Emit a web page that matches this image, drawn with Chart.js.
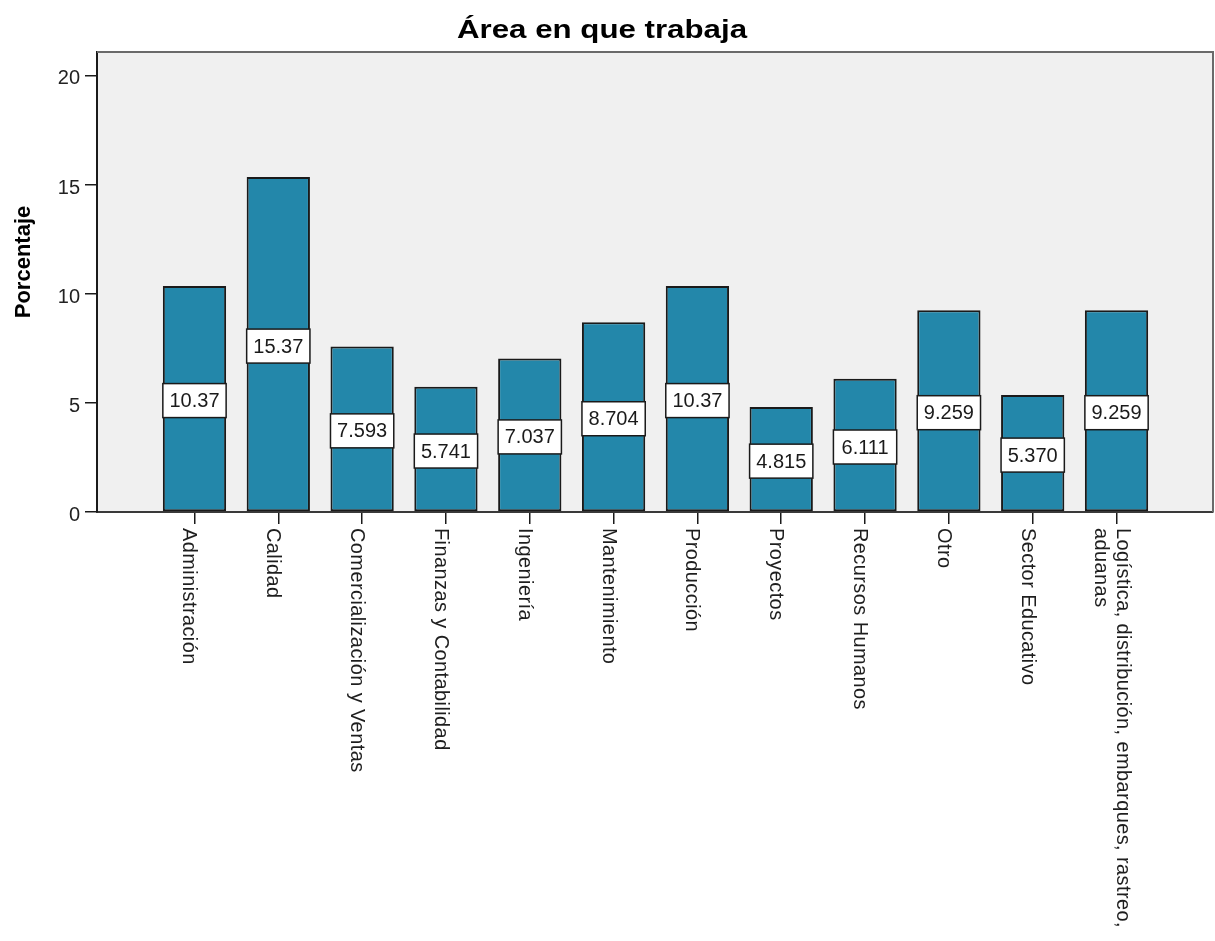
<!DOCTYPE html>
<html lang="es">
<head>
    <meta charset="UTF-8">
    <title>Área en que trabaja</title>
    <script src="https://cdn.jsdelivr.net/npm/chart.js"></script>
    <style>
        body {
            margin: 0;
            padding: 0;
            background: #ffffff;
        }

        #chartBox {
            width: 1215px;
            height: 941px;
        }
    </style>
</head>
<body>
    <div id="chartBox">
        <canvas id="areaChart"></canvas>
    </div>

    <script>
        const titleText = 'Área en que trabaja';
        const yAxisTitle = 'Porcentaje';

        const categories = [
            'Administración',
            'Calidad',
            'Comercialización y Ventas',
            'Finanzas y Contabilidad',
            'Ingeniería',
            'Mantenimiento',
            'Producción',
            'Proyectos',
            'Recursos Humanos',
            'Otro',
            'Sector Educativo',
            ['Logística, distribución, embarques, rastreo,', 'aduanas']
        ];

        const percentages = [10.37, 15.37, 7.593, 5.741, 7.037, 8.704, 10.37, 4.815, 6.111, 9.259, 5.370, 9.259];

        const yTicks = [0, 5, 10, 15, 20];

        const fontName = '"Liberation Sans", Arial, sans-serif';

        // bars sit on a linear axis so the empty space left/right of them matches SPSS
        const barPoints = percentages.map((v, i) => ({ x: i + 1, y: v }));

        const spssLook = {
            id: 'spssLook',
            beforeDraw(chart) {
                const { ctx, chartArea: a } = chart;
                ctx.save();
                ctx.fillStyle = '#ffffff';
                ctx.fillRect(0, 0, chart.width, chart.height);
                ctx.fillStyle = '#f0f0f0';
                ctx.fillRect(a.left, a.top, a.right - a.left, a.bottom - a.top);
                ctx.restore();
            },
            afterDatasetsDraw(chart) {
                const { ctx } = chart;
                const bars = chart.getDatasetMeta(0).data;
                ctx.save();
                ctx.font = '20px ' + fontName;
                ctx.textAlign = 'center';
                ctx.textBaseline = 'middle';
                bars.forEach((bar, i) => {
                    const p = bar.getProps(['x', 'y', 'base', 'width'], true);
                    const mid = (p.y + p.base) / 2 + 2;
                    const h = 34;
                    ctx.fillStyle = '#ffffff';
                    ctx.fillRect(p.x - p.width / 2, mid - h / 2, p.width, h);
                    ctx.strokeStyle = '#1a1a1a';
                    ctx.lineWidth = 1.5;
                    ctx.strokeRect(p.x - p.width / 2, mid - h / 2, p.width, h);
                    ctx.fillStyle = '#1a1a1a';
                    ctx.fillText(percentages[i].toPrecision(4), p.x, mid + 1);
                });
                ctx.restore();
            },
            afterDraw(chart) {
                const { ctx, chartArea: a } = chart;
                const xScale = chart.scales.x;
                ctx.save();

                // top and right frame
                ctx.strokeStyle = '#6a6a6a';
                ctx.lineWidth = 2;
                ctx.beginPath();
                ctx.moveTo(a.left, a.top);
                ctx.lineTo(a.right, a.top);
                ctx.lineTo(a.right, a.bottom);
                ctx.stroke();

                // title (SPSS draws it wide)
                ctx.save();
                ctx.fillStyle = '#000000';
                ctx.font = 'bold 25px ' + fontName;
                ctx.textAlign = 'center';
                ctx.textBaseline = 'alphabetic';
                ctx.translate(602, 38);
                ctx.scale(1.25, 1);
                ctx.fillText(titleText, 0, 0);
                ctx.restore();

                // y axis title
                ctx.save();
                ctx.fillStyle = '#000000';
                ctx.translate(30, 262);
                ctx.rotate(-Math.PI / 2);
                ctx.font = 'bold 22px ' + fontName;
                ctx.textAlign = 'center';
                ctx.fillText(yAxisTitle, 0, 0);
                ctx.restore();

                // category labels, turned clockwise
                ctx.font = '20px ' + fontName;
                ctx.letterSpacing = '0.4px';
                ctx.fillStyle = '#1e1e1e';
                ctx.textAlign = 'left';
                categories.forEach((label, i) => {
                    const lines = Array.isArray(label) ? label : [label];
                    const px = xScale.getPixelForValue(i + 1);
                    lines.forEach((line, j) => {
                        const bx = px - 11 + (lines.length - 1) * 11 - j * 22;
                        ctx.save();
                        ctx.translate(bx, a.bottom + 16);
                        ctx.rotate(Math.PI / 2);
                        ctx.fillText(line, 0, 0);
                        ctx.restore();
                    });
                });
                ctx.restore();
            }
        };

        const ctx = document.getElementById('areaChart').getContext('2d');
        const areaChart = new Chart(ctx, {
            type: 'bar',
            data: {
                datasets: [{
                    label: 'Porcentaje',
                    data: barPoints,
                    backgroundColor: '#2387aa',
                    borderColor: '#1a1a1a',
                    borderWidth: 2,
                    borderSkipped: false,
                    barPercentage: 0.755,
                    categoryPercentage: 1
                }]
            },
            options: {
                responsive: true,
                maintainAspectRatio: false,
                animation: false,
                layout: {
                    padding: { top: 52, right: 2, left: 0, bottom: 0 }
                },
                plugins: {
                    legend: { display: false },
                    title: { display: false },
                    tooltip: { enabled: false }
                },
                scales: {
                    x: {
                        type: 'linear',
                        offset: false,
                        min: -0.163,
                        max: 13.151,
                        afterBuildTicks(scale) {
                            scale.ticks = categories.map((c, i) => ({ value: i + 1 }));
                        },
                        afterFit(scale) {
                            scale.height = 941 - 512;
                        },
                        ticks: {
                            autoSkip: false,
                            maxRotation: 0,
                            callback: () => ''
                        },
                        grid: {
                            offset: false,
                            drawOnChartArea: false,
                            drawTicks: true,
                            tickLength: 12,
                            color: '#1a1a1a',
                            lineWidth: 1.5
                        },
                        border: { color: '#3a3a3a', width: 2 }
                    },
                    y: {
                        min: 0,
                        max: 21.1,
                        afterBuildTicks(scale) {
                            scale.ticks = yTicks.map(v => ({ value: v }));
                        },
                        afterFit(scale) {
                            scale.width = 97;
                        },
                        ticks: {
                            padding: 5,
                            labelOffset: 3,
                            color: '#222222',
                            font: { family: fontName, size: 20 }
                        },
                        grid: {
                            drawOnChartArea: false,
                            drawTicks: true,
                            tickLength: 12,
                            color: '#1a1a1a',
                            lineWidth: 1.5
                        },
                        border: { color: '#1a1a1a', width: 2 }
                    }
                }
            },
            plugins: [spssLook]
        });
    </script>
</body>
</html>
